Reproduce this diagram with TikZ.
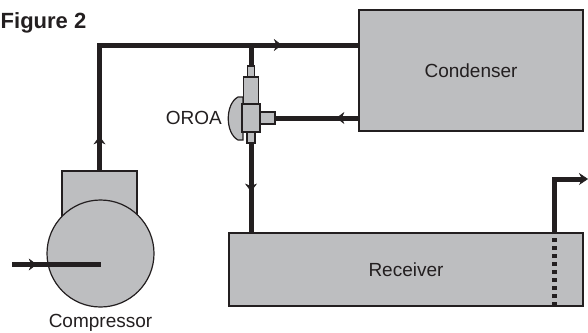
\documentclass[tikz,border=0pt]{standalone}
\usepackage{fontspec}
\setmainfont{Liberation Sans}
\usetikzlibrary{positioning, arrows.meta, decorations.markings}
\definecolor{ink}{HTML}{231F20}
\definecolor{metal}{HTML}{BDBEC0}
\tikzset{
	x=1pt, y=-1pt, % one unit is one pixel of the sketch, y runs downwards
	part/.style={draw=ink, fill=metal, line width=1.2pt, inner sep=0pt, outer sep=0pt}, % grey parts with a thin outline
	pipe/.style={ink, line width=5pt}, % the thick refrigerant lines
	flow/.style={postaction={decorate, decoration={markings, mark=at position #1 with {\arrow{Stealth[length=8pt, width=12pt, inset=2.5pt, line width=0.6pt]}}}}}, % arrow head in the middle of a line
	lbl/.style={text=ink, inner sep=0pt, font=\fontsize{19}{22}\selectfont}, % plain labels
}

\begin{document}
\begin{tikzpicture}
	\useasboundingbox (0,0) rectangle (588,332);
	\node[anchor=base west, text=ink, inner sep=0pt, font=\bfseries\fontsize{22}{26}\selectfont] (title) at (0.5,28) {Figure 2};

	% the big parts
	\node[part, lbl, minimum width=224pt, minimum height=121pt] (cond) at (471,70.5) {Condenser};
	\node[part, lbl, minimum width=354pt, minimum height=73pt] (recv) at (406,269.5) {Receiver};
	\node[part, minimum width=75pt, minimum height=70pt] (head) at (99.5,206) {};
	\node[part, circle, minimum size=107pt] (comp) at (100.5,253.5) {};
	\node[lbl, below=7pt of comp] (complbl) {Compressor};

	% the valve
	\draw[part] (238,97) .. controls (225,104) and (225,133) .. (238,140) -- (243,140) -- (243,97) -- cycle;
	\node[part, minimum width=18pt, minimum height=28pt] (vbody) at (251,118) {};
	\node[part, minimum width=15pt, minimum height=27pt, above=0pt of vbody] (vcyl) {};
	\node[part, minimum width=7pt, minimum height=11pt, above=0pt of vcyl] (vfit) {};
	\node[part, minimum width=15pt, minimum height=12pt, right=0pt of vbody] (vside) {};
	\node[part, minimum width=8pt, minimum height=11pt, below=0pt of vbody] (vbot) {};
	\node[lbl, anchor=east, left=20pt of vbody.west] (oroa) {OROA};

	% the lines
	\coordinate (c1) at (99.5,45);
	\coordinate (in) at (12,264.5);
	\coordinate (rise) at (554,179);
	\coordinate (out) at (588,179);
	\draw[pipe, flow=0.09, flow=0.80] (head.north) -- (c1) -- (c1 -| cond.west);
	\draw[pipe] (vfit.north) -- (vfit.north |- c1);
	\draw[pipe, flow=0.27] (cond.west |- vside.east) -- (vside.east);
	\draw[pipe, flow=0.54] (vbot.south) -- (vbot.south |- recv.north);
	\draw[pipe, flow=0.28] (in) -- (comp.center |- in);
	\draw[pipe, dash pattern=on 4.5pt off 3.5pt] (rise |- recv.south) -- (rise |- recv.north);
	\draw[pipe, -{Stealth[length=9pt, width=12pt, inset=3pt, line width=0.6pt]}] (rise |- recv.north) -- (rise) -- (out);
\end{tikzpicture}
\end{document}
